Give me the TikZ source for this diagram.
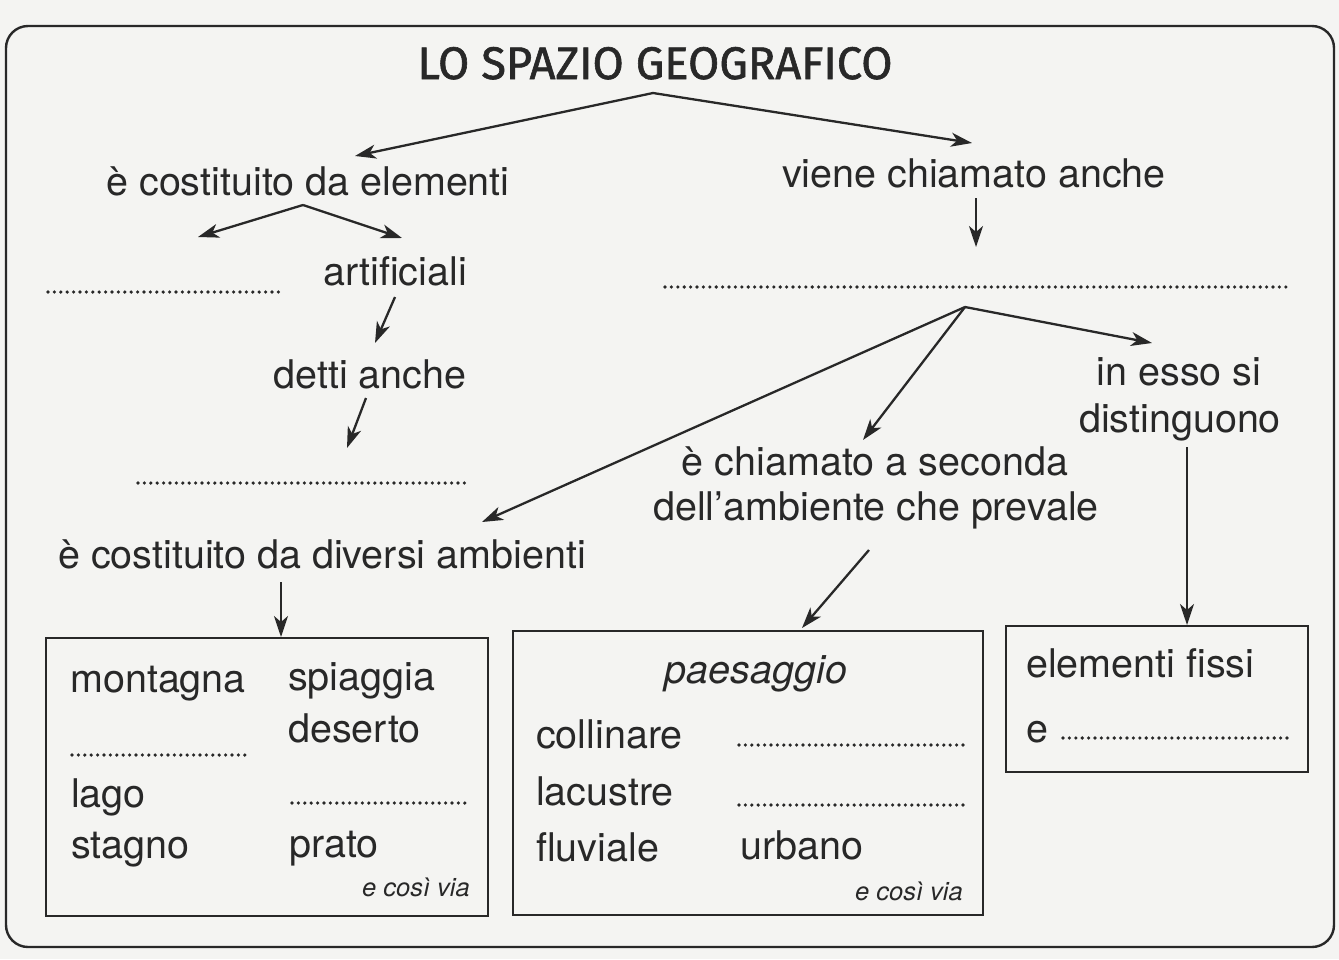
\documentclass[tikz,border=0pt]{standalone}
\usepackage{fontspec}
\usepackage{graphicx}
\setmainfont{TeX Gyre Heros}
\newfontfamily\titlefont[FakeBold=1.3]{Fira Sans}
\usetikzlibrary{arrows.meta}
\definecolor{ink}{RGB}{40,40,40}
\definecolor{paper}{RGB}{244,244,242}
\tikzset{
  txt/.style={text=ink, font=\fontsize{39.5}{44}\selectfont, inner sep=0pt, anchor=base},
  lefttxt/.style={txt, anchor=base west},
  small/.style={text=ink, font=\fontsize{25.5}{30}\selectfont\itshape, inner sep=0pt, anchor=base east},
  conn/.style={draw=ink, line width=2.3pt, -{Stealth[length=21pt,width=14pt,inset=6pt]}},
  dots/.style={draw=ink, line width=3.6pt, dash pattern=on 0pt off 6.4pt, line cap=round},
  boxframe/.style={draw=ink, line width=2.3pt, inner sep=0pt},
}
\begin{document}
\begin{tikzpicture}[x=1pt,y=-1pt]
\fill[paper] (0,0) rectangle (1339,959);
\useasboundingbox (0,0) rectangle (1339,959);
\draw[ink, line width=2.4pt, rounded corners=22pt] (6,26) rectangle (1334,947);

% title
\node[txt] (title) at (655,79) {\resizebox{475pt}{32pt}{\titlefont LO SPAZIO GEOGRAFICO}};
\coordinate (t0) at (653,93);
\coordinate (t1) at (355,156);
\coordinate (t2) at (972,143);
\draw[conn] (t0) -- (t1);
\draw[conn] (t0) -- (t2);

% left branch
\node[txt] (elem) at (308,195) {è costituito da elementi};
\coordinate (e0) at (303,205);
\coordinate (e1) at (198,237);
\coordinate (e2) at (402,238);
\draw[conn] (e0) -- (e1);
\draw[conn] (e0) -- (e2);
\coordinate (dl1) at (48,292);
\coordinate (dl2) at (282,292);
\draw[dots] (dl1) -- (dl2);
\node[txt] (artif) at (395,285) {artificiali};
\coordinate (a0) at (395,297);
\coordinate (a1) at (375,343);
\draw[conn] (a0) -- (a1);
\node[txt] (detti) at (370,388) {detti anche};
\coordinate (b0) at (366,398);
\coordinate (b1) at (347,448);
\draw[conn] (b0) -- (b1);
\coordinate (dm1) at (138,483);
\coordinate (dm2) at (467,483);
\draw[dots] (dm1) -- (dm2);

% right branch
\node[txt] (viene) at (974,187) {viene chiamato anche};
\coordinate (v0) at (976,198);
\coordinate (v1) at (976,247);
\draw[conn] (v0) -- (v1);
\coordinate (dr1) at (665,287);
\coordinate (dr2) at (1287,287);
\draw[dots] (dr1) -- (dr2);
\coordinate (r0) at (965,307);
\coordinate (r1) at (482,522);
\coordinate (r2) at (863,440);
\coordinate (r3) at (1152,343);
\draw[conn] (r0) -- (r1);
\draw[conn] (r0) -- (r2);
\draw[conn] (r0) -- (r3);

\node[txt] (esso) at (1179,385) {in esso si};
\node[txt] (dist) at (1180,432) {distinguono};
\node[txt] (chiam) at (875,475) {è chiamato a seconda};
\node[txt] (dell) at (876,520) {dell’ambiente che prevale};
\node[txt] (div) at (322,568) {è costituito da diversi ambienti};

% boxes
\node[boxframe, anchor=north west, minimum width=442pt, minimum height=278pt] (box1) at (45,637) {};
\node[boxframe, anchor=north west, minimum width=470pt, minimum height=284pt] (box2) at (512,630) {};
\node[boxframe, anchor=north west, minimum width=302pt, minimum height=146pt] (box3) at (1005,625) {};

\coordinate (d0) at (281,582);
\draw[conn] (d0) -- (d0 |- box1.north);
\coordinate (p0) at (869,550);
\coordinate (p1) at (802,628);
\draw[conn] (p0) -- (p1);
\coordinate (s0) at (1187,447);
\draw[conn] (s0) -- (s0 |- box3.north);

% box 1 content
\node[lefttxt] (mont) at (70,692) {montagna};
\node[lefttxt] (spia) at (288,690) {spiaggia};
\node[lefttxt] (dese) at (288,742) {deserto};
\coordinate (b1a) at (72,755);
\coordinate (b1b) at (250,755);
\draw[dots] (b1a) -- (b1b);
\node[lefttxt] (lago) at (71,807) {lago};
\coordinate (b1c) at (292,803);
\coordinate (b1d) at (468,803);
\draw[dots] (b1c) -- (b1d);
\node[lefttxt] (stag) at (71,858) {stagno};
\node[lefttxt] (prato) at (289,857) {prato};
\node[small] (cosi1) at (470,896) {e così via};

% box 2 content
\node[txt, font=\fontsize{39.5}{44}\selectfont\itshape] (paes) at (756,683) {paesaggio};
\node[lefttxt] (coll) at (536,748) {collinare};
\coordinate (b2a) at (739,745);
\coordinate (b2b) at (965,745);
\draw[dots] (b2a) -- (b2b);
\node[lefttxt] (lacu) at (536,805) {lacustre};
\coordinate (b2c) at (739,805);
\coordinate (b2d) at (965,805);
\draw[dots] (b2c) -- (b2d);
\node[lefttxt] (fluv) at (536,861) {fluviale};
\node[lefttxt] (urba) at (740,859) {urbano};
\node[small] (cosi2) at (963,900) {e così via};

% box 3 content
\node[lefttxt] (fissi) at (1026,677) {elementi fissi};
\node[lefttxt] (e3) at (1026,742) {e};
\coordinate (b3a) at (1063,738);
\coordinate (b3b) at (1287,738);
\draw[dots] (b3a) -- (b3b);
\end{tikzpicture}
\end{document}
